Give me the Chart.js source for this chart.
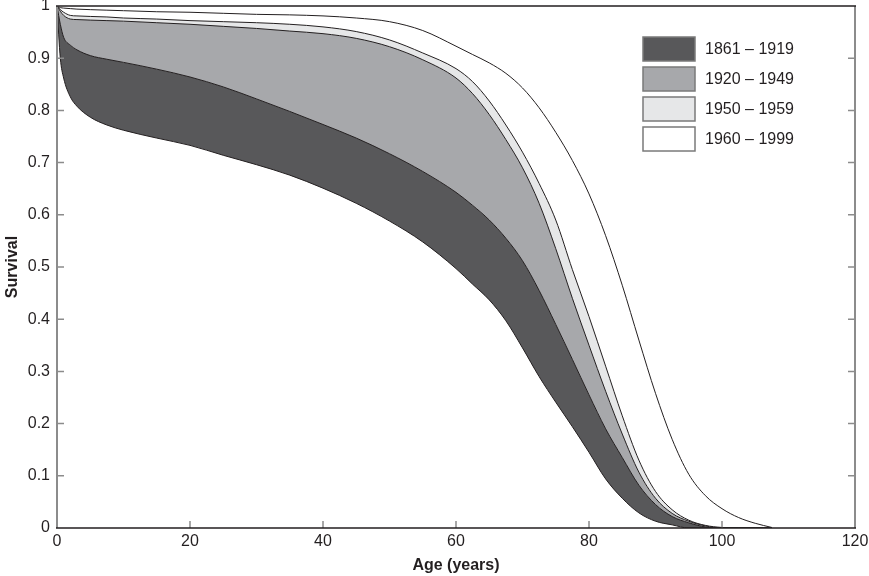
<!DOCTYPE html>
<html>
<head>
<meta charset="utf-8">
<title>Survival by birth cohort</title>
<script src="https://cdn.jsdelivr.net/npm/chart.js@4.4.1/dist/chart.umd.min.js"></script>
<style>
  body { margin: 0; background: #fff; }
  #wrap { width: 869px; height: 576px; }
</style>
</head>
<body>
<div id="wrap"><canvas id="survivalChart" width="869" height="576"></canvas></div>
<script>
// ages (years) shared by every curve
const ages = [0, 0.5, 1, 2, 3, 5, 7.5, 10, 15, 20, 25, 30, 35, 40, 45, 50, 55, 60,
  62.5, 65, 67.5, 70, 72.5, 75, 77.5, 80, 82.5, 85, 87.5, 90, 92.5, 95, 97.5, 100,
  102.5, 105, 107.5];

// lower edge of the dark band
const lowerEdge = [1, 0.90, 0.862, 0.826, 0.808, 0.787, 0.772, 0.762, 0.747, 0.733, 0.714,
  0.696, 0.676, 0.651, 0.622, 0.588, 0.548, 0.497, 0.467, 0.437, 0.397, 0.345, 0.290,
  0.241, 0.194, 0.145, 0.094, 0.057, 0.029, 0.013, 0.006, 0, 0, 0, 0, 0, 0];

const cohort1861 = [1, 0.965, 0.940, 0.925, 0.916, 0.905, 0.898, 0.892, 0.879, 0.864, 0.845,
  0.822, 0.798, 0.773, 0.747, 0.717, 0.683, 0.643, 0.618, 0.590, 0.555, 0.512, 0.455,
  0.390, 0.323, 0.255, 0.190, 0.135, 0.082, 0.045, 0.022, 0.010, 0.002, 0, 0, 0, 0];

const cohort1920 = [1, 0.99, 0.982, 0.975, 0.974, 0.973, 0.972, 0.971, 0.968, 0.965, 0.961,
  0.957, 0.952, 0.947, 0.938, 0.922, 0.897, 0.862, 0.832, 0.792, 0.744, 0.690, 0.622,
  0.535, 0.440, 0.350, 0.262, 0.180, 0.107, 0.057, 0.028, 0.013, 0.004, 0, 0, 0, 0];

const cohort1950 = [1, 0.993, 0.988, 0.982, 0.981, 0.980, 0.979, 0.977, 0.975, 0.972, 0.970,
  0.968, 0.965, 0.960, 0.951, 0.935, 0.910, 0.880, 0.855, 0.818, 0.772, 0.720, 0.660,
  0.590, 0.495, 0.405, 0.310, 0.215, 0.130, 0.070, 0.035, 0.015, 0.005, 0.001, 0, 0, 0];

const cohort1960 = [1, 0.997, 0.996, 0.995, 0.994, 0.993, 0.992, 0.991, 0.989, 0.988, 0.986,
  0.984, 0.983, 0.981, 0.977, 0.970, 0.953, 0.923, 0.907, 0.891, 0.871, 0.843, 0.805,
  0.758, 0.704, 0.640, 0.560, 0.465, 0.360, 0.258, 0.170, 0.103, 0.062, 0.037, 0.020,
  0.009, 0.001];

const cohortLabels = ["1861 \u2013 1919", "1920 \u2013 1949", "1950 \u2013 1959", "1960 \u2013 1999"];

const ink = "#231f20";
const axisGrey = "#8c8c8c";
const font = "'Liberation Sans', Arial, Helvetica, sans-serif";

const toPoints = (vals) => ages.map((a, i) => ({ x: a, y: vals[i] }));

const band = (label, vals, color) => ({
  label: label,
  data: toPoints(vals),
  borderColor: ink,
  borderWidth: 1,
  backgroundColor: color,
  fill: "-1",
  pointRadius: 0,
  cubicInterpolationMode: "monotone",
});

// frame + inward tick marks like the original figure
const frameTicks = {
  id: "frameTicks",
  afterDraw(chart) {
    const { ctx, chartArea: a, scales } = chart;
    ctx.save();
    ctx.lineWidth = 1.5;
    ctx.strokeStyle = axisGrey;
    ctx.beginPath();
    scales.y.ticks.forEach((t) => {
      if (t.value <= 0 || t.value >= 1) return;
      const y = scales.y.getPixelForValue(t.value);
      ctx.moveTo(a.left, y);
      ctx.lineTo(a.left + 7, y);
      ctx.moveTo(a.right, y);
      ctx.lineTo(a.right - 7, y);
    });
    scales.x.ticks.forEach((t) => {
      if (t.value <= 0 || t.value >= 120) return;
      const x = scales.x.getPixelForValue(t.value);
      ctx.moveTo(x, a.bottom);
      ctx.lineTo(x, a.bottom - 7);
    });
    ctx.stroke();

    ctx.lineWidth = 2;
    ctx.beginPath();
    ctx.moveTo(a.left, a.top);
    ctx.lineTo(a.left, a.bottom);
    ctx.moveTo(a.right, a.top);
    ctx.lineTo(a.right, a.bottom);
    ctx.stroke();

    ctx.strokeStyle = ink;
    ctx.lineWidth = 1.5;
    ctx.beginPath();
    ctx.moveTo(a.left - 1, a.top);
    ctx.lineTo(a.right + 1, a.top);
    ctx.moveTo(a.left - 1, a.bottom);
    ctx.lineTo(a.right + 1, a.bottom);
    ctx.stroke();
    ctx.restore();
  },
};

// legend boxes inside the plot, top right
const boxLegend = {
  id: "boxLegend",
  afterDraw(chart) {
    const { ctx } = chart;
    const sets = chart.data.datasets.filter((d) => d.label);
    ctx.save();
    ctx.font = "16px " + font;
    ctx.textBaseline = "middle";
    sets.forEach((d, i) => {
      const top = 37 + i * 30;
      ctx.fillStyle = d.backgroundColor;
      ctx.fillRect(643, top, 52, 24);
      ctx.lineWidth = 1.5;
      ctx.strokeStyle = "#7a7a7a";
      ctx.strokeRect(643, top, 52, 24);
      ctx.fillStyle = ink;
      ctx.fillText(d.label, 705, top + 12.5);
    });
    ctx.restore();
  },
};

const ctx = document.getElementById("survivalChart").getContext("2d");
const survivalChart = new Chart(ctx, {
  type: "line",
  data: {
    datasets: [
      {
        label: "",
        data: toPoints(lowerEdge),
        borderColor: ink,
        borderWidth: 1,
        fill: false,
        pointRadius: 0,
        cubicInterpolationMode: "monotone",
      },
      band(cohortLabels[0], cohort1861, "#58585a"),
      band(cohortLabels[1], cohort1920, "#a7a8ab"),
      band(cohortLabels[2], cohort1950, "#e6e7e8"),
      band(cohortLabels[3], cohort1960, "#ffffff"),
    ],
  },
  options: {
    responsive: false,
    animation: false,
    layout: { padding: { top: 6, right: 14, left: 0, bottom: 0 } },
    plugins: {
      legend: { display: false },
      tooltip: { enabled: false },
    },
    scales: {
      x: {
        type: "linear",
        min: 0,
        max: 120,
        grid: { display: false, drawTicks: false },
        border: { display: false },
        ticks: { stepSize: 20, color: ink, padding: 4, maxRotation: 0, font: { family: font, size: 16 } },
        title: { display: true, text: "Age (years)", color: ink, padding: { top: 0, bottom: 1 }, font: { family: font, size: 16, weight: "bold" } },
        afterFit(scale) {
          scale.height = 48;
          scale.paddingLeft = 0;
          scale.paddingRight = 0;
        },
      },
      y: {
        min: 0,
        max: 1,
        grid: { display: false, drawTicks: false },
        border: { display: false },
        ticks: {
          stepSize: 0.1,
          color: ink,
          padding: 7,
          font: { family: font, size: 16 },
          callback: (v) => String(+v.toFixed(1)),
        },
        title: { display: true, text: "Survival", color: ink, padding: { top: 3, bottom: 0 }, font: { family: font, size: 16, weight: "bold" } },
        afterFit(scale) {
          scale.width = 57;
          scale.paddingTop = 0;
          scale.paddingBottom = 0;
        },
      },
    },
  },
  plugins: [frameTicks, boxLegend],
});
</script>
</body>
</html>
